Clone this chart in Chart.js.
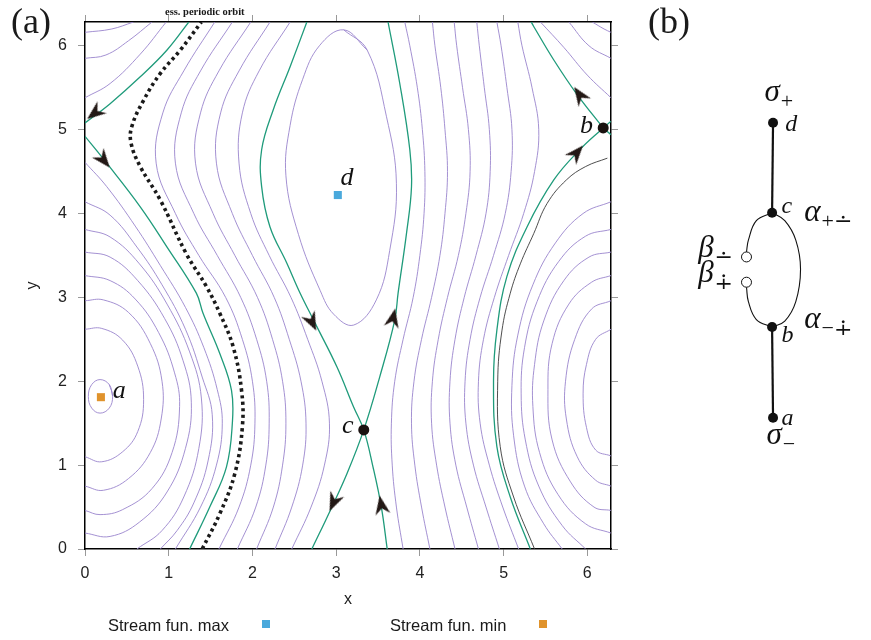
<!DOCTYPE html>
<html>
<head>
<meta charset="utf-8">
<title>Stream function contours</title>
<script src="https://cdn.jsdelivr.net/npm/chart.js@4.4.1/dist/chart.umd.min.js"></script>
<style>
  html, body { margin: 0; padding: 0; background: #fff; }
  body { position: relative; width: 871px; height: 640px; overflow: hidden; font-family: 'Liberation Sans', Arial, sans-serif; color: #1a1a1a; }
  #panelA { position: absolute; left: 0; top: 0; }
  #panelB { position: absolute; left: 640px; top: 40px; }
  .tag { position: absolute; font-family: 'Liberation Serif', serif; font-size: 36px; line-height: 1; }
  .note { position: absolute; font-family: 'Liberation Serif', serif; font-weight: bold; font-size: 10.5px; line-height: 1; }
  .leg { position: absolute; font-size: 16.5px; line-height: 1; }
  .swatch { position: absolute; width: 8px; height: 8px; }
</style>
</head>
<body>
<canvas id="panelA" width="640" height="640"></canvas>
<canvas id="panelB" width="231" height="430"></canvas>
<div class="tag" style="left:11px; top:3px;">(a)</div>
<div class="tag" style="left:648px; top:3px;">(b)</div>
<div class="note" style="left:165px; top:7px;">ess. periodic orbit</div>
<div class="leg" style="left:108px; top:617px;">Stream fun. max</div>
<div class="swatch" style="left:262px; top:620px; background:#4aa9dc;"></div>
<div class="leg" style="left:390px; top:617px;">Stream fun. min</div>
<div class="swatch" style="left:539px; top:620px; background:#e0932c;"></div>
<script>
// ---- panel (a): contour lines of the stream function ----
const TWO_PI = 6.2832;

// closed curves round the minimum a (left side of the box)
const ringA0 = [[0.29,1.96],[0.33,1.82],[0.29,1.68],[0.18,1.62],[0.08,1.68],[0.04,1.82],[0.08,1.96],[0.18,2.02],[0.29,1.96],[0.33,1.82]];
const ringA2 = [[0,2.62],[0.2,2.63],[0.45,2.49],[0.63,2.18],[0.70,1.78],[0.63,1.4],[0.45,1.16],[0.2,1.04],[0,1.1]];
const ringA3 = [[0,2.96],[0.22,2.97],[0.52,2.82],[0.78,2.45],[0.92,2.0],[0.91,1.55],[0.78,1.15],[0.52,0.84],[0.22,0.7],[0,0.75]];
const ringA4 = [[0,3.26],[0.3,3.2],[0.6,2.98],[0.88,2.58],[1.07,2.1],[1.13,1.7],[1.04,1.15],[0.8,0.72],[0.45,0.47],[0.18,0.41],[0,0.46]];
const ringA5 = [[0,3.54],[0.3,3.48],[0.63,3.2],[0.95,2.75],[1.17,2.25],[1.27,1.75],[1.2,1.2],[0.98,0.68],[0.65,0.32],[0.3,0.15],[0,0.19]];
const ringA6 = [[0,3.81],[0.3,3.72],[0.65,3.4],[0.98,2.92],[1.25,2.35],[1.39,1.8],[1.36,1.2],[1.18,0.62],[0.92,0.22],[0.62,0]];
const ringA6top = [[0.58,TWO_PI],[0.32,6.2],[0,6.16]];
const ringA7 = [[0,4.14],[0.3,3.98],[0.62,3.6],[0.92,3.15],[1.2,2.62],[1.4,2.05],[1.52,1.6],[1.47,1.05],[1.3,0.55],[1.1,0.22],[0.9,0]];
const ringA7top = [[0.8,TWO_PI],[0.52,6.06],[0.25,5.89],[0,5.85]];
const ringA8 = [[0,4.61],[0.26,4.32],[0.6,3.85],[0.9,3.38],[1.2,2.88],[1.42,2.4],[1.58,1.9],[1.64,1.5],[1.57,1.0],[1.38,0.5],[1.08,0]];
const ringA8top = [[0.97,TWO_PI],[0.66,5.9],[0.3,5.55],[0,5.38]];

// the same family seen again at the right edge (periodic in x)
const ringR2 = [[TWO_PI,2.62],[6.1,2.5],[5.99,2.2],[5.95,1.85],[5.99,1.45],[6.1,1.18],[TWO_PI,1.11]];
const ringR3 = [[TWO_PI,2.96],[6.05,2.86],[5.85,2.5],[5.74,2.0],[5.75,1.55],[5.88,1.1],[6.1,0.82],[TWO_PI,0.75]];
const ringR4 = [[TWO_PI,3.26],[6.05,3.18],[5.78,2.92],[5.58,2.45],[5.53,1.9],[5.58,1.3],[5.8,0.8],[6.08,0.5],[TWO_PI,0.46]];
const ringR5 = [[TWO_PI,3.54],[6.02,3.48],[5.72,3.2],[5.48,2.72],[5.37,2.2],[5.35,1.7],[5.43,1.15],[5.65,0.65],[5.98,0.3],[TWO_PI,0.19]];
const ringR6 = [[TWO_PI,3.81],[5.98,3.73],[5.66,3.43],[5.4,2.95],[5.25,2.4],[5.21,1.85],[5.26,1.3],[5.42,0.75],[5.7,0.28],[5.98,0]];
const ringR6top = [[6.06,TWO_PI],[6.2,6.2],[TWO_PI,6.16]];
const ringR7 = [[TWO_PI,4.14],[5.95,4.0],[5.62,3.65],[5.35,3.15],[5.17,2.55],[5.1,1.95],[5.12,1.35],[5.25,0.75],[5.48,0.3],[5.7,0]];
const ringR7top = [[5.78,TWO_PI],[6.02,6.0],[TWO_PI,5.85]];
const ringR8top = [[5.44,TWO_PI],[5.72,5.98],[6.0,5.65],[TWO_PI,5.38]];
const darkLine = [[6.24,4.66],[5.98,4.56],[5.75,4.40],[5.52,4.12],[5.36,3.76],[5.2,3.4],[5.08,3.05],[4.98,2.6],[4.93,2.0],[4.96,1.22],[5.12,0.62],[5.37,0]];

// closed curve round the maximum d
const ringD = [[3.09,6.19],[3.37,5.95],[3.6,5.16],[3.72,4.36],[3.64,3.56],[3.48,2.97],[3.21,2.67],[2.97,2.8],[2.81,3.08],[2.55,3.75],[2.4,4.45],[2.45,5.05],[2.6,5.6],[2.8,6.0],[3.09,6.19],[3.37,5.95]];

// open lines running bottom to top, left family (x values at leftLevels)
const leftLevels = [0, 0.5, 1, 1.5, 2, 2.5, 3, 3.5, 4, 4.6, 5.2, 5.7, TWO_PI];
const left1 = [1.60, 1.84, 1.98, 2.03, 2.00, 1.88, 1.68, 1.36, 1.08, 0.85, 0.93, 1.18, 1.55];
const left2 = [1.82, 2.04, 2.16, 2.20, 2.17, 2.05, 1.86, 1.58, 1.30, 1.08, 1.15, 1.38, 1.76];
const left3 = [2.05, 2.25, 2.36, 2.40, 2.36, 2.24, 2.06, 1.79, 1.53, 1.32, 1.38, 1.60, 1.98];
const left4 = [2.27, 2.47, 2.60, 2.64, 2.58, 2.44, 2.26, 2.00, 1.76, 1.57, 1.62, 1.84, 2.21];
const left5 = [2.47, 2.70, 2.86, 2.92, 2.83, 2.66, 2.46, 2.20, 1.98, 1.84, 1.88, 2.08, 2.45];

// right family (x values at rightLevels)
const rightLevels = [0, 0.5, 1, 1.5, 2, 2.5, 3, 3.5, 4, 4.5, 5, 5.5, 6, TWO_PI];
const right1 = [3.80, 3.72, 3.67, 3.66, 3.70, 3.80, 3.92, 4.00, 4.05, 4.06, 4.03, 3.97, 3.88, 3.82];
const right2 = [4.12, 4.02, 3.94, 3.90, 3.93, 4.02, 4.14, 4.24, 4.30, 4.33, 4.30, 4.25, 4.18, 4.15];
const right3 = [4.42, 4.30, 4.20, 4.14, 4.15, 4.22, 4.33, 4.46, 4.55, 4.60, 4.58, 4.51, 4.44, 4.41];
const right4 = [4.70, 4.56, 4.43, 4.36, 4.36, 4.42, 4.53, 4.67, 4.79, 4.84, 4.83, 4.77, 4.71, 4.68];
const right5 = [4.95, 4.79, 4.64, 4.55, 4.54, 4.60, 4.72, 4.88, 5.02, 5.09, 5.10, 5.04, 4.97, 4.92];
const right6 = [5.18, 4.99, 4.83, 4.72, 4.70, 4.76, 4.89, 5.06, 5.24, 5.37, 5.42, 5.34, 5.22, 5.17];

// separatrices (green)
const sepLeftUp = [[0,5.08],[0.30,5.31],[0.66,5.63],[0.98,5.95],[1.24,TWO_PI]];
const sepLeftDown = [[0,4.92],[0.26,4.60],[0.66,4.08],[0.98,3.60],[1.33,3.05],[1.41,2.81],[1.61,2.33],[1.75,1.89],[1.76,1.50],[1.69,0.98],[1.49,0.50],[1.25,0]];
const sepRightUp = [[6.19,5.02],[5.87,5.43],[5.60,5.83],[5.36,6.23],[5.33,TWO_PI]];
const sepRightDown = [[6.19,5.02],[5.91,4.76],[5.60,4.40],[5.28,3.84],[5.04,3.25],[4.92,2.61],[4.88,2.01],[4.92,1.22],[5.08,0.62],[5.32,0]];
const sepStubs = [[TWO_PI,5.10],[6.19,5.02],[TWO_PI,4.94]];
const sepA = [[2.65,TWO_PI],[2.45,5.75],[2.25,5.24],[2.11,4.76],[2.11,4.32],[2.21,3.84],[2.41,3.41],[2.57,3.05],[2.75,2.69],[3.01,2.17],[3.21,1.69],[3.33,1.42],[3.44,0.98],[3.54,0.50],[3.61,0]];
const sepB = [[3.62,TWO_PI],[3.76,5.55],[3.88,4.76],[3.90,4.32],[3.84,3.76],[3.74,3.05],[3.70,2.73],[3.52,2.05],[3.33,1.42],[3.13,0.90],[2.93,0.46],[2.71,0]];

// essentially periodic orbit (dotted)
const orbitPath = [[1.40,0],[1.61,0.42],[1.79,0.90],[1.88,1.46],[1.87,1.89],[1.77,2.41],[1.61,2.81],[1.45,3.13],[1.21,3.52],[0.90,4.16],[0.66,4.56],[0.55,4.84],[0.56,5.04],[0.70,5.35],[0.90,5.67],[1.14,5.95],[1.39,TWO_PI]];

// flow arrows, saddles, extrema
const arrowPts = [[0.12,5.20],[0.22,4.64],[2.71,2.71],[3.68,2.75],[2.97,0.56],[3.54,0.52],[5.91,5.41],[5.87,4.72]];
const arrowAngles = [142, 51, 64, -78, 114, -100, -124, -49];
const saddlePts = [[6.19,5.02],[3.33,1.42]];
const maxPts = [[3.02,4.22]];
const minPts = [[0.19,1.81]];
const pointNames = ['a', 'b', 'c', 'd'];
const pointNameX = [0.41, 5.99, 3.14, 3.13];
const pointNameY = [1.80, 4.96, 1.38, 4.34];

const PURPLE = '#9a84cd';
const GREEN = '#1f9b7b';

function zip(xs, levels) {
    return xs.map((v, i) => [v, levels[i]]);
}

function curve(data, color, width) {
    return {
        data: data,
        showLine: true,
        borderColor: color,
        borderWidth: width,
        pointRadius: 0,
        tension: 0.4,
        fill: false
    };
}

function makeArrowHead() {
    const c = document.createElement('canvas');
    c.width = 24;
    c.height = 24;
    const g = c.getContext('2d');
    g.fillStyle = '#231815';
    g.beginPath();
    g.moveTo(22, 12);
    g.lineTo(3, 4.5);
    g.lineTo(9, 12);
    g.lineTo(3, 19.5);
    g.closePath();
    g.fill();
    return c;
}

const pointNameLabels = {
    id: 'pointNameLabels',
    afterDatasetsDraw(chart) {
        const { ctx, scales: { x, y } } = chart;
        ctx.save();
        ctx.font = 'italic 26px "Liberation Serif", serif';
        ctx.fillStyle = '#111';
        ctx.textAlign = 'center';
        ctx.textBaseline = 'alphabetic';
        pointNames.forEach((t, i) => {
            ctx.fillText(t, x.getPixelForValue(pointNameX[i]), y.getPixelForValue(pointNameY[i]));
        });
        ctx.restore();
    }
};

const purpleLines = [ringA0, ringA2, ringA3, ringA4, ringA5, ringA6, ringA6top, ringA7, ringA7top, ringA8, ringA8top,
    ringR2, ringR3, ringR4, ringR5, ringR6, ringR6top, ringR7, ringR7top, ringR8top, ringD,
    zip(left1, leftLevels), zip(left2, leftLevels), zip(left3, leftLevels), zip(left4, leftLevels), zip(left5, leftLevels),
    zip(right1, rightLevels), zip(right2, rightLevels), zip(right3, rightLevels), zip(right4, rightLevels),
    zip(right5, rightLevels), zip(right6, rightLevels)];
const greenLines = [sepLeftUp, sepLeftDown, sepRightUp, sepRightDown, sepA, sepB];

const stubs = curve(sepStubs, GREEN, 1.3);
stubs.tension = 0;

// datasets listed top-most first (Chart.js draws index 0 last)
const datasetsA = [
    {
        data: arrowPts,
        pointStyle: makeArrowHead(),
        pointRadius: 8,
        pointRotation: arrowAngles,
        showLine: false
    },
    { data: saddlePts, pointStyle: 'circle', pointRadius: 5.5, pointBackgroundColor: '#1a1210', pointBorderWidth: 0, showLine: false },
    { data: maxPts, pointStyle: 'rect', pointRadius: 5.7, pointBackgroundColor: '#4aa9dc', pointBorderWidth: 0, showLine: false },
    { data: minPts, pointStyle: 'rect', pointRadius: 5.7, pointBackgroundColor: '#e0932c', pointBorderWidth: 0, showLine: false },
    Object.assign(curve(orbitPath, '#1a1a1a', 3.6), { borderDash: [3.2, 3.4] }),
    stubs,
    ...greenLines.map(d => curve(d, GREEN, 1.3)),
    curve(darkLine, '#3a3a3a', 0.9),
    ...purpleLines.map(d => curve(d, PURPLE, 0.9))
];

const tickFont = { family: "'Liberation Sans', Arial, sans-serif", size: 16 };
const tickGrid = { drawOnChartArea: false, drawTicks: true, tickLength: 7, color: '#999', lineWidth: 1 };
const frame = { display: true, color: '#000', width: 1.5 };

new Chart(document.getElementById('panelA'), {
    type: 'scatter',
    data: { datasets: datasetsA },
    options: {
        responsive: false,
        animation: false,
        layout: { padding: 0 },
        plugins: { legend: { display: false }, tooltip: { enabled: false } },
        scales: {
            x: {
                type: 'linear', position: 'bottom', min: 0, max: TWO_PI,
                ticks: { stepSize: 1, includeBounds: false, font: tickFont, color: '#222', padding: 8, maxRotation: 0 },
                grid: tickGrid, border: frame,
                title: { display: true, text: 'x', font: tickFont, color: '#222', padding: { top: 0, bottom: 31 } },
                afterFit: s => { s.height = 91; }
            },
            x2: {
                type: 'linear', position: 'top', min: 0, max: TWO_PI,
                ticks: { display: false, stepSize: 1, includeBounds: false },
                grid: tickGrid, border: frame,
                afterFit: s => { s.height = 22; }
            },
            y: {
                type: 'linear', position: 'left', min: 0, max: TWO_PI,
                ticks: { stepSize: 1, includeBounds: false, font: tickFont, color: '#222', padding: 11 },
                grid: tickGrid, border: frame,
                title: { display: true, text: 'y', font: tickFont, color: '#222', padding: { top: 23, bottom: 0 } },
                afterFit: s => { s.width = 85; }
            },
            y2: {
                type: 'linear', position: 'right', min: 0, max: TWO_PI,
                ticks: { display: false, stepSize: 1, includeBounds: false },
                grid: tickGrid, border: frame,
                afterFit: s => { s.width = 29; }
            }
        }
    },
    plugins: [pointNameLabels]
});

// ---- panel (b): graph of the contour tree ----
const stemTop = [[0,0],[-1,-92.5]];
const stemBottom = [[-1,-210],[0,-303.4]];
const loopRight = [[-1,-92.5],[12.4,-100.7],[24,-120.7],[29,-150.7],[24,-184],[12.4,-204],[-1,-210]];
const loopLeftUp = [[-1,-92.5],[-17.6,-100.7],[-26,-120.7],[-28,-132.7]];
const loopLeftDown = [[-28,-169.2],[-26,-184],[-17.6,-202.4],[-1,-210]];
const nodePts = [[0,0],[-1,-92.5],[-1,-210],[0,-303.4]];
const openPts = [[-28,-138],[-28,-164]];
const graphMain = ['σ', 'd', 'c', 'α', 'β', 'β', 'b', 'α', 'a', 'σ'];
const graphSub = ['+', '', '', '+∸', '∸', '∔', '', '−∔', '', '−'];
const graphX = [-9, 13, 9, 33, -79, -79, 9, 33, 9, -7];
const graphY = [22, -8, -93, -101, -138, -164, -226, -211, -311, -330];

const graphText = {
    id: 'graphText',
    afterDatasetsDraw(chart) {
        const { ctx, scales: { x, y } } = chart;
        ctx.save();
        ctx.fillStyle = '#111';
        ctx.textBaseline = 'alphabetic';
        graphMain.forEach((m, i) => {
            const px = x.getPixelForValue(graphX[i]);
            const py = y.getPixelForValue(graphY[i]);
            const greek = graphSub[i] !== '';
            ctx.font = greek ? 'italic 31px "Liberation Serif", serif' : 'italic 24px "Liberation Serif", serif';
            ctx.fillText(m, px, py);
            if (greek) {
                const w = ctx.measureText(m).width;
                ctx.font = '22px "Liberation Serif", "DejaVu Serif", serif';
                ctx.fillText(graphSub[i], px + w + 1, py + 7);
            }
        });
        ctx.restore();
    }
};

const thin = d => curve(d, '#111', 1.1);

new Chart(document.getElementById('panelB'), {
    type: 'scatter',
    data: {
        datasets: [
            { data: nodePts, pointStyle: 'circle', pointRadius: 5, pointBackgroundColor: '#111', pointBorderWidth: 0, showLine: false },
            { data: openPts, pointStyle: 'circle', pointRadius: 5, pointBackgroundColor: '#fff', pointBorderColor: '#111', pointBorderWidth: 1, showLine: false },
            Object.assign(curve(stemTop, '#111', 2.2), { tension: 0 }),
            Object.assign(curve(stemBottom, '#111', 2.2), { tension: 0 }),
            thin(loopRight),
            thin(loopLeftUp),
            thin(loopLeftDown)
        ]
    },
    options: {
        responsive: false,
        animation: false,
        layout: { padding: 0 },
        plugins: { legend: { display: false }, tooltip: { enabled: false } },
        scales: {
            x: { type: 'linear', min: -134, max: 97, display: false },
            y: { type: 'linear', min: -351, max: 79, display: false }
        }
    },
    plugins: [graphText]
});
</script>
</body>
</html>
